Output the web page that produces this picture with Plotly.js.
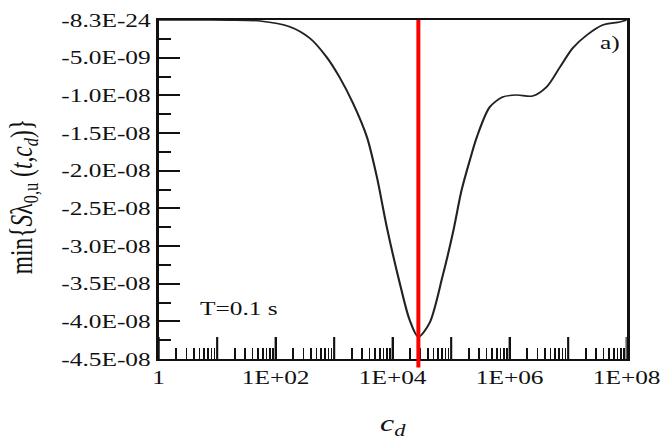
<!DOCTYPE html>
<html>
<head>
<meta charset="utf-8">
<script src="https://cdn.plot.ly/plotly-3.0.1.min.js"></script>
<style>
  html, body { margin: 0; padding: 0; background: #fff; overflow: hidden; }
  #wrap { width: 660px; height: 443px; overflow: hidden; }
  #plot { width: 495px; height: 443px; transform: scaleX(1.33333); transform-origin: 0 0; }
</style>
</head>
<body>
<div id="wrap"><div id="plot"></div></div>
<script>
// c_d values (x) and min{S} values (y)
const cd = [1, 5, 16, 54, 174, 380, 741, 1230, 2090, 3630, 5370, 7940, 13200, 19500, 27500,
            42700, 70800, 107000, 151000, 209000, 275000, 457000, 759000, 1320000, 2450000,
            4270000, 7080000, 12000000, 20900000, 38900000, 75900000, 100000000];
const minS = [-8.3e-24, -8.3e-24, -1e-11, -1.3e-10, -8.9e-10, -2.39e-9, -4.91e-9, -7.57e-9,
              -1.102e-8, -1.553e-8, -2.084e-8, -2.748e-8, -3.491e-8, -3.982e-8, -4.208e-8,
              -4.022e-8, -3.411e-8, -2.827e-8, -2.256e-8, -1.858e-8, -1.553e-8, -1.155e-8,
              -1.022e-8, -0.996e-8, -1.009e-8, -0.889e-8, -0.637e-8, -0.372e-8, -0.199e-8,
              -0.066e-8, -0.027e-8, -8.3e-24];
const markerCd = 27500;

const xLabelVals = [1, 100, 10000, 1000000, 100000000];
const xLabelText = ['1', '1E+02', '1E+04', '1E+06', '1E+08'];
const xDecades = [1, 10, 100, 1000, 10000, 100000, 1000000, 10000000, 100000000];
const yTickVals = [-4.5e-8, -4.0e-8, -3.5e-8, -3.0e-8, -2.5e-8, -2.0e-8, -1.5e-8, -1.0e-8, -5.0e-9, -8.3e-24];
const yTickText = ['-4.5E-08', '-4.0E-08', '-3.5E-08', '-3.0E-08', '-2.5E-08', '-2.0E-08', '-1.5E-08', '-1.0E-08', '-5.0E-09', '-8.3E-24'];
const minorDigits = [2, 3, 4, 5, 6, 7, 8, 9];

// minor tick positions (2..9 in every decade)
const xMinorVals = [];
xDecades.slice(0, -1).forEach(function (d) { minorDigits.forEach(function (m) { xMinorVals.push(d * m); }); });

const serif = 'Liberation Serif, Times New Roman, serif';
const ink = '#111111';

const data = [
  {
    x: cd, y: minS, type: 'scatter', mode: 'lines',
    line: { color: '#222222', width: 1.6, shape: 'spline', smoothing: 0.8 },
    hoverinfo: 'skip'
  },
  {
    x: [1, 100000000], y: [-8.3e-24, -8.3e-24], xaxis: 'x2', yaxis: 'y',
    type: 'scatter', mode: 'lines', line: { width: 0 }, opacity: 0, hoverinfo: 'skip'
  }
];

// major decade ticks (inside, long) drawn on the x scale
const majorTickShapes = xDecades.map(function (d) {
  return { type: 'line', xref: 'x', yref: 'paper', x0: d, x1: d, y0: 0, y1: 22 / 339,
           line: { color: ink, width: 1.6 } };
});

const layout = {
  width: 495, height: 443,
  margin: { l: 119, r: 25, t: 20, b: 84 },
  paper_bgcolor: '#ffffff', plot_bgcolor: '#ffffff',
  showlegend: false,
  font: { family: serif, size: 19, color: ink },
  xaxis: {
    type: 'log', range: [0, 8],
    tickmode: 'array', tickvals: xLabelVals, ticktext: xLabelText,
    ticks: 'inside', ticklen: 22, tickwidth: 1.6, tickcolor: ink,
    ticklabeloverflow: 'allow',
    showline: true, linecolor: ink, linewidth: 2.2, mirror: true,
    showgrid: false, zeroline: false,
    tickfont: { family: serif, size: 19, color: ink },
    title: { text: '<i>c<sub>d</sub></i>', font: { family: serif, size: 24, color: ink }, standoff: 27 }
  },
  xaxis2: {
    type: 'log', range: [0, 8], overlaying: 'x', side: 'bottom', anchor: 'y',
    tickmode: 'array', tickvals: xMinorVals,
    ticks: 'inside', ticklen: 11, tickwidth: 1.3, tickcolor: ink,
    showline: false, showgrid: false, zeroline: false, showticklabels: false
  },
  yaxis: {
    range: [-4.5e-8, -8.3e-24],
    tickmode: 'array', tickvals: yTickVals, ticktext: yTickText,
    ticks: 'inside', ticklen: 16, tickwidth: 2, tickcolor: ink,
    minor: { tick0: 0, dtick: 2.5e-9, ticks: 'inside', ticklen: 9, tickwidth: 2, tickcolor: ink },
    showline: true, linecolor: ink, linewidth: 2.2, mirror: true,
    showgrid: false, zeroline: false,
    tickfont: { family: serif, size: 19, color: ink }
  },
  shapes: majorTickShapes.concat([{
    type: 'line', xref: 'x', yref: 'paper',
    x0: markerCd, x1: markerCd, y0: -0.025, y1: 1,
    line: { color: '#ff0000', width: 3 }
  }]),
  annotations: [
    { text: 'min{<i>S</i>λ<sub>0,u</sub> (<i>t</i>,<i>c<sub>d</sub></i>)}', textangle: -90,
      xref: 'paper', yref: 'paper', x: -0.2877, y: 0.477, xanchor: 'center', yanchor: 'middle',
      showarrow: false, font: { family: serif, size: 23.5, color: ink } },
    { text: 'a)', xref: 'paper', yref: 'paper', x: 0.963, y: 0.932, xanchor: 'center', yanchor: 'middle', showarrow: false, font: { family: serif, size: 19, color: ink } },
    { text: 'T=0.1 s', xref: 'paper', yref: 'paper', x: 0.171, y: 0.150, xanchor: 'center', yanchor: 'middle', showarrow: false, font: { family: serif, size: 19, color: ink } }
  ]
};

Plotly.newPlot('plot', data, layout, { staticPlot: true, displayModeBar: false });
</script>
</body>
</html>
